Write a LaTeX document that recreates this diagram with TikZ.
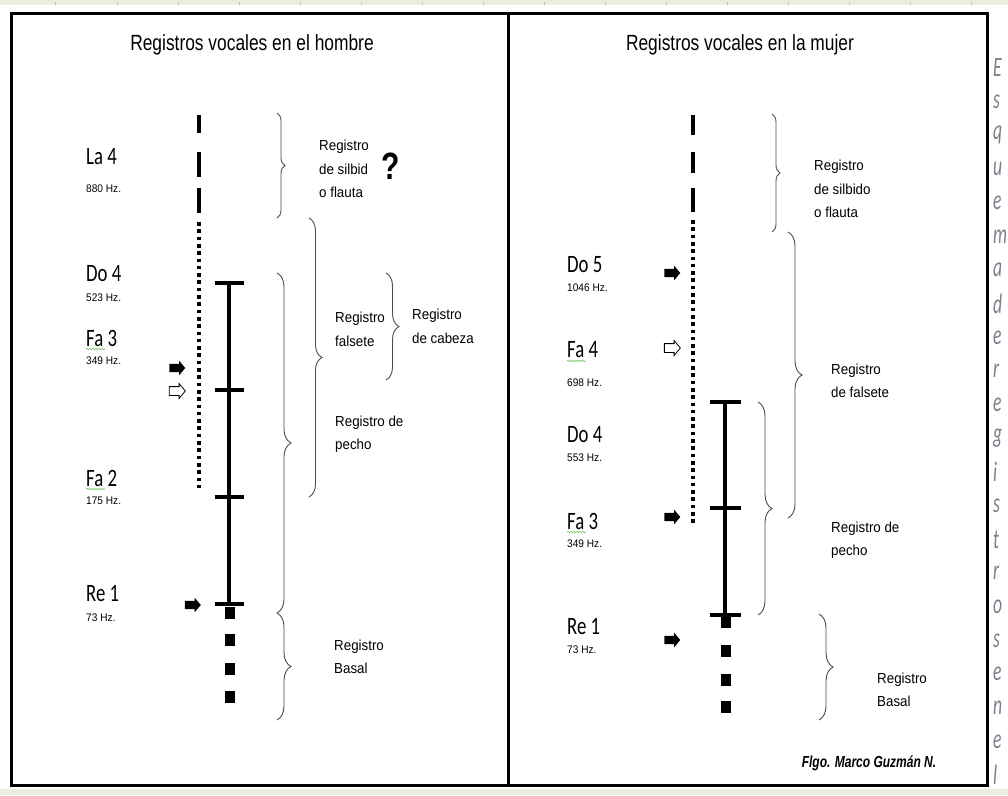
\documentclass[tikz,border=0pt]{standalone}
\usepackage{fontspec}
\usetikzlibrary{decorations.pathreplacing,decorations.pathmorphing,shapes.arrows}
\newfontfamily\titlefont[FakeStretch=0.79]{Liberation Sans}
\newfontfamily\regfont[FakeStretch=0.92]{Liberation Sans}
\newfontfamily\notefont[FakeStretch=0.75]{Carlito}
\newfontfamily\sigfont[FakeStretch=0.75]{Liberation Sans}
\newfontfamily\sidefont[FakeStretch=0.63]{Carlito}
\definecolor{band}{HTML}{EDECDF}
\definecolor{sidegray}{HTML}{7E7E8C}
\definecolor{squig}{HTML}{7DBE6A}
\tikzset{
  ttl/.style={inner sep=0, font=\titlefont\fontsize{22}{26}\selectfont},
  note/.style={anchor=west, inner sep=0, font=\notefont\fontsize{25}{28}\selectfont},
  hz/.style={anchor=west, inner sep=0, font=\regfont\fontsize{11}{13}\selectfont},
  reg/.style={anchor=west, inner sep=0, align=left, font=\regfont\fontsize{14.5}{23.5}\selectfont},
  brc/.style={decorate, decoration={brace, amplitude=#1}, draw=black!70, line width=0.9pt},
  axisline/.style={line width=4pt},
  tickbar/.style={line width=4.5pt},
  dashseg/.style={line width=4pt},
  dotseg/.style={line width=4pt, dash pattern=on 3.6pt off 3.7pt},
  sq/.style={fill=black, minimum width=10pt, minimum height=12pt, inner sep=0},
  farrow/.style={single arrow, fill=black, minimum height=16pt, single arrow head extend=3pt, single arrow tip angle=100, inner sep=0},
  oarrow/.style={farrow, fill=white, draw=black, line width=0.8pt},
  wavy/.style={draw=squig, line width=0.6pt, decorate, decoration={snake, amplitude=0.8pt, segment length=3pt}},
  side/.style={anchor=west, inner sep=0, text=sidegray, font=\sidefont\itshape\fontsize{28}{30}\selectfont},
}
\newcommand{\shaft}{\rule{0pt}{8pt}}
\begin{document}
\begin{tikzpicture}[x=1pt, y=-1pt]
\useasboundingbox (0,0) rectangle (1008,795);
\fill[white] (0,0) rectangle (1008,795);
% top and bottom bands
\fill[band] (0,0) rectangle (1008,5);
\fill[band] (0,789) rectangle (1008,795);
\foreach \x in {55,117,178,239,300,361,422,483,544,605,666,727,788,849,910,971}
  \draw[black!25, line width=0.8pt] (\x,2) -- (\x,5);
% frame
\draw[line width=3pt] (11.5,13.5) rectangle (987,785);
\coordinate (divtop) at (508.5,13.5);
\coordinate (divbot) at (508.5,785);
\draw[line width=3pt] (divtop) -- (divbot);

% ================= LEFT PANEL =================
\node[ttl] (tL) at (252,45) {Registros vocales en el hombre};

% dashed / dotted line
\coordinate (Ld1a) at (199,115); \coordinate (Ld1b) at (199,133);
\coordinate (Ld2a) at (199,152); \coordinate (Ld2b) at (199,177);
\coordinate (Ld3a) at (199,188); \coordinate (Ld3b) at (199,213);
\coordinate (Ldota) at (199,222); \coordinate (Ldotb) at (199,492);
\draw[dashseg] (Ld1a) -- (Ld1b);
\draw[dashseg] (Ld2a) -- (Ld2b);
\draw[dashseg] (Ld3a) -- (Ld3b);
\draw[dotseg] (Ldota) -- (Ldotb);

% solid axis with bars
\coordinate (La) at (229,283); \coordinate (Lb) at (229,390);
\coordinate (Lc) at (229,497); \coordinate (Ld) at (229,604);
\draw[axisline] (La) -- (Ld);
\foreach \p in {La,Lb,Lc,Ld}
  \draw[tickbar] ([xshift=-14.5pt]\p) -- ([xshift=14.5pt]\p);
\node[sq] (Ls1) at (230,613) {};
\node[sq] (Ls2) at (230,640) {};
\node[sq] (Ls3) at (230,668.5) {};
\node[sq] (Ls4) at (230,696.5) {};

% arrows
\node[farrow] (LA1) at (175.5,368) {\shaft};
\node[oarrow] (LA2) at (175.5,391) {\shaft};
\node[farrow] (LA3) at (191,605) {\shaft};

% note labels
\node[note] (LLa4) at (86,157) {La 4};
\node[hz] (LH1) at (86,189) {880 Hz.};
\node[note] (LDo4) at (86,274) {Do 4};
\node[hz] (LH2) at (86,298) {523 Hz.};
\node[note] (LFa3) at (86,338) {Fa 3};
\node[hz] (LH3) at (86,361) {349 Hz.};
\node[note] (LFa2) at (86,478) {Fa 2};
\node[hz] (LH4) at (86,501) {175 Hz.};
\node[note] (LRe1) at (86,594) {Re 1};
\node[hz] (LH5) at (86,618) {73 Hz.};
\draw[wavy] ([yshift=-3pt]LFa3.base west) -- ++(19,0);
\draw[wavy] ([yshift=-3pt]LFa2.base west) -- ++(19,0);

% braces
\coordinate (LB1a) at (277,113); \coordinate (LB1b) at (277,218);
\coordinate (LB2a) at (309,218); \coordinate (LB2b) at (309,497);
\coordinate (LB3a) at (277,273); \coordinate (LB3b) at (277,613);
\coordinate (LB4a) at (277,613); \coordinate (LB4b) at (277,720);
\coordinate (LB5a) at (386,273); \coordinate (LB5b) at (386,380);
\draw[brc=8pt] (LB1a) -- (LB1b);
\draw[brc=13pt] (LB2a) -- (LB2b);
\draw[brc=14pt] (LB3a) -- (LB3b);
\draw[brc=14pt] (LB4a) -- (LB4b);
\draw[brc=13pt] (LB5a) -- (LB5b);

% register labels
\node[reg] (LR1) at (319,169) {Registro\\de silbid\\o flauta};
\node[inner sep=0, font=\titlefont\bfseries\fontsize{38}{40}\selectfont] (LQ) at (391,166) {?};
\node[reg] (LR2) at (335,329.5) {Registro\\falsete};
\node[reg] (LR3) at (412,326.5) {Registro\\de cabeza};
\node[reg] (LR4) at (335,434) {Registro de\\pecho};
\node[reg] (LR5) at (334,657) {Registro\\Basal};

% ================= RIGHT PANEL =================
\node[ttl] (tR) at (740,45) {Registros vocales en la mujer};

\coordinate (Rd1a) at (693,115); \coordinate (Rd1b) at (693,135);
\coordinate (Rd2a) at (693,152); \coordinate (Rd2b) at (693,173);
\coordinate (Rd3a) at (693,188); \coordinate (Rd3b) at (693,212);
\coordinate (Rdota) at (693,220); \coordinate (Rdotb) at (693,524);
\draw[dashseg] (Rd1a) -- (Rd1b);
\draw[dashseg] (Rd2a) -- (Rd2b);
\draw[dashseg] (Rd3a) -- (Rd3b);
\draw[dotseg] (Rdota) -- (Rdotb);

\coordinate (Ra) at (725,402); \coordinate (Rb) at (725,508);
\coordinate (Rc) at (725,615);
\draw[axisline] (Ra) -- (Rc);
\foreach \p in {Ra,Rb,Rc}
  \draw[tickbar] ([xshift=-15.5pt]\p) -- ([xshift=15.5pt]\p);
\node[sq] (Rs1) at (726,622) {};
\node[sq] (Rs2) at (726,650.5) {};
\node[sq] (Rs3) at (726,679.5) {};
\node[sq] (Rs4) at (726,707) {};

\node[farrow] (RA1) at (670.5,273) {\shaft};
\node[oarrow] (RA2) at (670.5,348) {\shaft};
\node[farrow] (RA3) at (670.5,517) {\shaft};
\node[farrow] (RA4) at (670.5,640) {\shaft};

\node[note] (RDo5) at (567,265) {Do 5};
\node[hz] (RH1) at (567,288) {1046 Hz.};
\node[note] (RFa4) at (567,350) {Fa 4};
\node[hz] (RH2) at (567,383) {698 Hz.};
\node[note] (RDo4) at (567,435) {Do 4};
\node[hz] (RH3) at (567,458) {553 Hz.};
\node[note] (RFa3) at (567,521) {Fa 3};
\node[hz] (RH4) at (567,544) {349 Hz.};
\node[note] (RRe1) at (567,627) {Re 1};
\node[hz] (RH5) at (567,650) {73 Hz.};
\draw[wavy] ([yshift=-3pt]RFa4.base west) -- ++(19,0);
\draw[wavy] ([yshift=-3pt]RFa3.base west) -- ++(19,0);

\coordinate (RB1a) at (772,114); \coordinate (RB1b) at (772,232);
\coordinate (RB2a) at (788,232); \coordinate (RB2b) at (788,518);
\coordinate (RB3a) at (758,402); \coordinate (RB3b) at (758,615);
\coordinate (RB4a) at (819,614); \coordinate (RB4b) at (819,720);
\draw[brc=8pt] (RB1a) -- (RB1b);
\draw[brc=14pt] (RB2a) -- (RB2b);
\draw[brc=14pt] (RB3a) -- (RB3b);
\draw[brc=14pt] (RB4a) -- (RB4b);

\node[reg] (RR1) at (814,189) {Registro\\de silbido\\o flauta};
\node[reg] (RR2) at (831,381) {Registro\\de falsete};
\node[reg] (RR3) at (831,540) {Registro de\\pecho};
\node[reg] (RR4) at (877,690) {Registro\\Basal};

\node[inner sep=0, font=\sigfont\bfseries\itshape\fontsize{16}{18}\selectfont] (sig) at (869,763) {Flgo. Marco Guzmán N.};

% vertical side text
\foreach \ch [count=\i from 0] in {E,s,q,u,e,m,a,d,e,r,e,g,i,s,t,r,o,s,e,n,e,l}
  \node[side] (side\i) at (993,{68+33.67*\i}) {\ch};
\end{tikzpicture}
\end{document}
